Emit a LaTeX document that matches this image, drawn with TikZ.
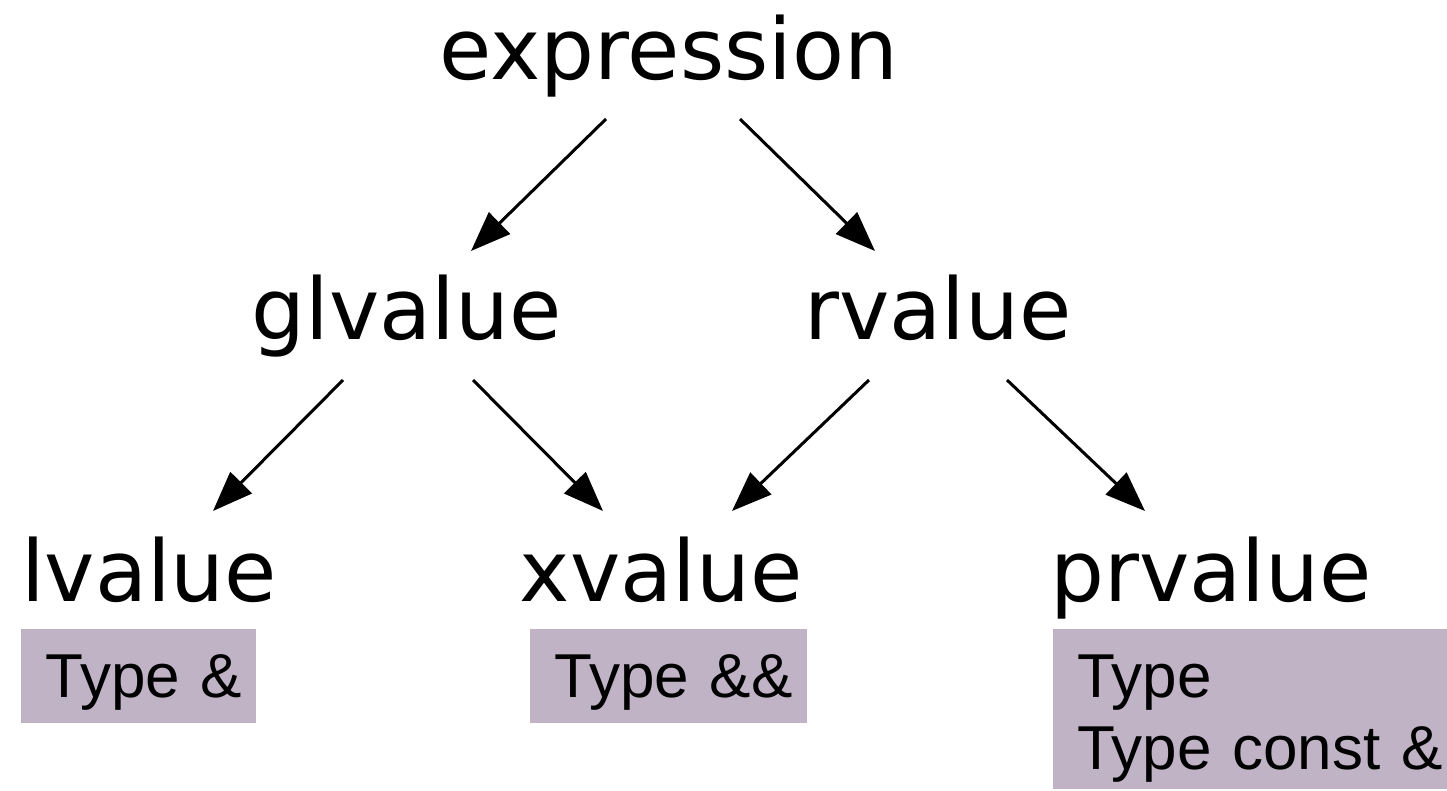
\documentclass[tikz,border=0pt]{standalone}
\usepackage{fontspec}
\newfontfamily\dvfont{DejaVu Sans}
\newfontfamily\lsfont{Liberation Sans}
\usetikzlibrary{arrows.meta,calc}
\definecolor{boxfill}{RGB}{192,179,198}
\begin{document}
\begin{tikzpicture}[x=1pt,y=-1pt,
  cat/.style={font=\dvfont\fontsize{85}{100}\selectfont, inner sep=0pt, anchor=base},
  tbox/.style={fill=boxfill, font=\lsfont\fontsize{62}{72}\selectfont, inner sep=0pt,
    anchor=north west, align=left, text height=68pt},
  arr/.style={line width=3pt, -{Triangle[length=40pt,width=30pt]}}]
\useasboundingbox (0,0) rectangle (1447,790);

\node[cat] (expr) at (669,79) {expression};
\node[cat] (glv) at (406.5,339) {glvalue};
\node[cat] (rv) at (938,339) {rvalue};
\node[cat] (lv) at (149,601) {lvalue};
\node[cat] (xv) at (661,601) {xvalue};
\node[cat] (prv) at (1211,601) {prvalue};

\node[tbox, text width=235pt, text depth=26pt] (lt) at (21,629) {\hspace*{24.5pt}Type \&};
\node[tbox, text width=277pt, text depth=26pt] (xt) at (530,629) {\hspace*{24.5pt}Type \&\&};
\node[tbox, text width=394pt, text depth=92pt] (pt) at (1053,629) {\hspace*{24pt}Type\\\hspace*{24pt}Type const \&};

\draw[arr] ($(expr.base)+(-63,40)$) -- ($(glv.base)+(64.5,-88)$);
\draw[arr] ($(expr.base)+(71,40)$) -- ($(rv.base)+(-63,-88)$);
\draw[arr] ($(glv.base)+(-63.5,41)$) -- ($(lv.base)+(64,-90)$);
\draw[arr] ($(glv.base)+(66.5,41)$) -- ($(xv.base)+(-58,-90)$);
\draw[arr] ($(rv.base)+(-69,41)$) -- ($(xv.base)+(71,-90)$);
\draw[arr] ($(rv.base)+(69,41)$) -- ($(prv.base)+(-66,-90)$);
\end{tikzpicture}
\end{document}
